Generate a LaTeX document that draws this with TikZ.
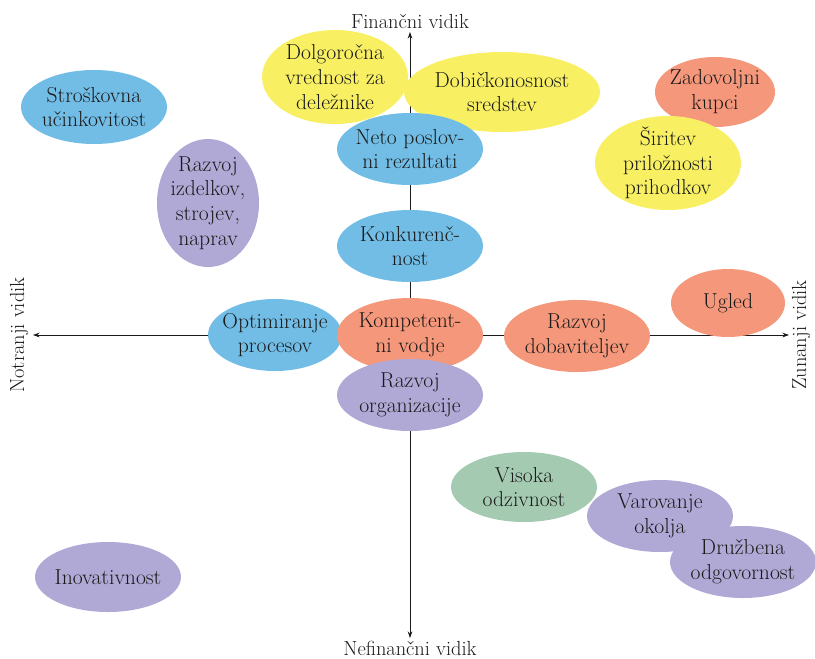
\documentclass[tikz,border=0pt]{standalone}
\usetikzlibrary{arrows.meta}
\definecolor{cblue}{HTML}{72BDE6}
\definecolor{cyellow}{HTML}{F8F062}
\definecolor{csalmon}{HTML}{F4977B}
\definecolor{cpurple}{HTML}{B0A9D5}
\definecolor{cgreen}{HTML}{A4CBB1}
\definecolor{ctext}{HTML}{1A1A1A}
\newcommand\bubble[6]{\fill[#1] (#2) ellipse (#3 and #4); \node[lbl] (#5) at (#2) {#6};}
\begin{document}
\begin{tikzpicture}[x=0.75pt,y=-0.75pt,
  lbl/.style={align=center,text=ctext,font=\fontsize{16.2}{18.6}\selectfont,inner sep=0},
  axlbl/.style={text=ctext,font=\fontsize{15.3}{18}\selectfont,inner sep=0},
  axis/.style={line width=0.6pt,draw=ctext,{Stealth[length=5pt,width=3.5pt]}-{Stealth[length=5pt,width=3.5pt]}}]
\useasboundingbox (0,0) rectangle (815,658);
% axes
\coordinate (top) at (410,32);
\coordinate (bot) at (410,638);
\coordinate (lft) at (33,335);
\coordinate (rgt) at (789,335);
\draw[axis] (bot) -- (top);
\draw[axis] (lft) -- (rgt);
\node[axlbl] (fin) at (410,21) {Finančni vidik};
\node[axlbl] (nef) at (410,648) {Nefinančni vidik};
\node[axlbl,rotate=90] (notr) at (19,335) {Notranji vidik};
\node[axlbl,rotate=90] (zun) at (801,335) {Zunanji vidik};
% bubbles
\bubble{cblue}{94,107}{73}{37}{strosk}{Stroškovna\\učinkovitost}
\bubble{cpurple}{208,203}{51}{64}{izd}{Razvoj\\izdelkov,\\strojev,\\naprav}
\bubble{cyellow}{335,77}{73}{47}{dolg}{Dolgoročna\\vrednost za\\deležnike}
\bubble{cyellow}{502,92}{98}{40}{dob}{Dobičkonosnost\\sredstev}
\bubble{cblue}{410,149}{73}{36}{neto}{Neto poslov-\\ni rezultati}
\bubble{csalmon}{715,92}{60}{35}{zad}{Zadovoljni\\kupci}
\bubble{cyellow}{668,163}{73}{47}{sir}{Širitev\\priložnosti\\prihodkov}
\bubble{cblue}{410,246}{73}{36}{konk}{Konkurenč-\\nost}
\bubble{csalmon}{728,303}{57}{34}{ugled}{Ugled}
\bubble{cblue}{275,335}{67}{36}{opt}{Optimiranje\\procesov}
\bubble{csalmon}{410,335}{73}{37}{komp}{Kompetent-\\ni vodje}
\bubble{csalmon}{577,336}{73}{36}{dobav}{Razvoj\\dobaviteljev}
\bubble{cpurple}{410,395}{73}{36}{org}{Razvoj\\organizacije}
\bubble{cgreen}{524,487}{73}{35}{vis}{Visoka\\odzivnost}
\bubble{cpurple}{660,516}{73}{36}{var}{Varovanje\\okolja}
\bubble{cpurple}{743,562}{73}{36}{druz}{Družbena\\odgovornost}
\bubble{cpurple}{108,577}{73}{35}{inov}{Inovativnost}
\end{tikzpicture}
\end{document}
